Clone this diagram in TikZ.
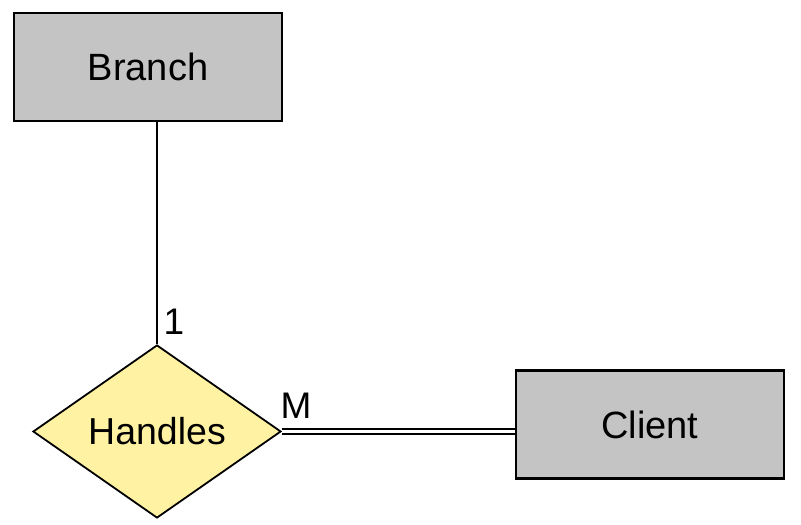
\documentclass[tikz,border=0pt]{standalone}
\usepackage{fontspec}
\setmainfont{Liberation Sans}
\usetikzlibrary{shapes.geometric}
\definecolor{entgray}{HTML}{C4C4C4}
\definecolor{relyellow}{HTML}{FFF3A3}
\begin{document}
\begin{tikzpicture}[x=1pt,y=-1pt,
  entity/.style={draw=black,line width=2.5pt,fill=entgray,minimum width=268pt,minimum height=108pt,inner sep=0pt,font=\fontsize{38}{44}\selectfont},
  rel/.style={draw=black,line width=1.8pt,fill=relyellow,diamond,aspect=1.43,minimum width=248pt,minimum height=173pt,inner sep=0pt,font=\fontsize{37.5}{44}\selectfont},
  conn/.style={draw=black,line width=1.8pt},
  card/.style={font=\fontsize{37}{44}\selectfont,inner sep=0pt}]
\useasboundingbox (0,0) rectangle (801,525);
\node[entity] (branch) at (148,67) {Branch};
\node[entity] (client) at (650,424.5) {Client};
\node[rel] (handles) at (157,431.5) {Handles};
\draw[conn] (branch.south -| handles.north) -- (handles.north);
\draw[black,line width=1.6pt,double=white,double distance=3.5pt] (handles.east) -- (client.west |- handles.east);
\node[card] (one) at (174,322) {1};
\node[card] (m) at (296,406) {M};
\end{tikzpicture}
\end{document}
